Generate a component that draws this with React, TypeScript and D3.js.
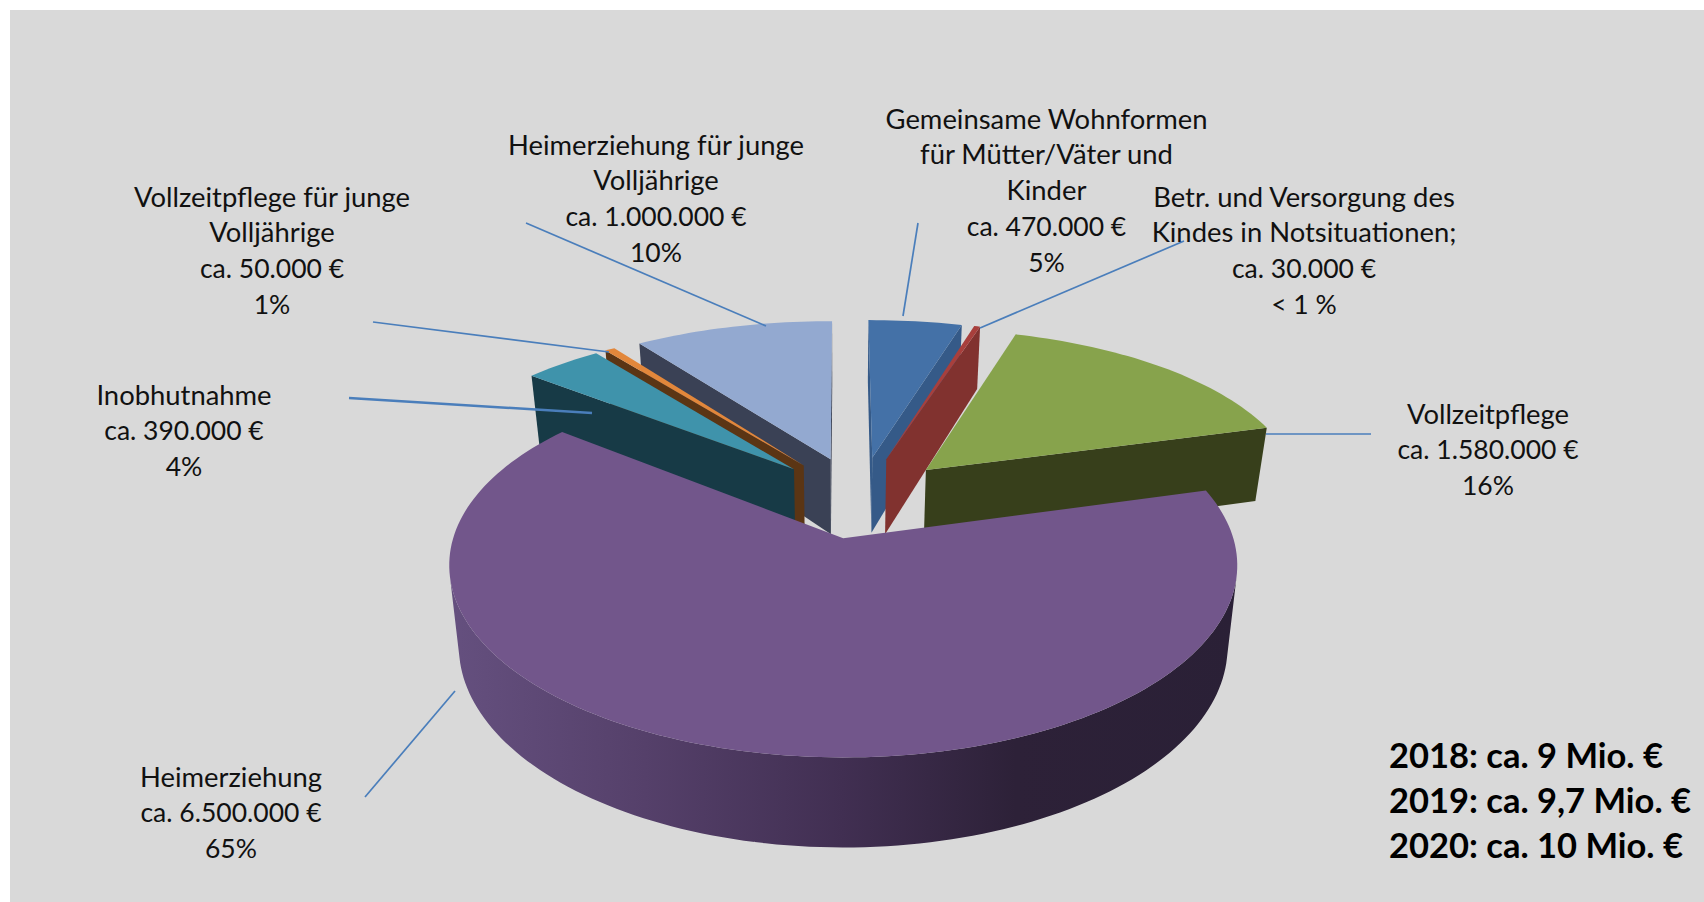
import React from "react";
import * as d3 from "d3";

// ---------- data ----------
const categories = [
  "Gemeinsame Wohnformen für Mütter/Väter und Kinder",
  "Betr. und Versorgung des Kindes in Notsituationen",
  "Vollzeitpflege",
  "Heimerziehung",
  "Inobhutnahme",
  "Vollzeitpflege für junge Volljährige",
  "Heimerziehung für junge Volljährige",
];
const amounts = [470000, 30000, 1580000, 6500000, 390000, 50000, 1000000];
const labelLines = [
  ["Gemeinsame Wohnformen", "für Mütter/Väter und", "Kinder", "ca. 470.000 €", "5%"],
  ["Betr. und Versorgung des", "Kindes in Notsituationen;", "ca. 30.000 €", "< 1 %"],
  ["Vollzeitpflege", "ca. 1.580.000 €", "16%"],
  ["Heimerziehung", "ca. 6.500.000 €", "65%"],
  ["Inobhutnahme", "ca. 390.000 €", "4%"],
  ["Vollzeitpflege für junge", "Volljährige", "ca. 50.000 €", "1%"],
  ["Heimerziehung für junge", "Volljährige", "ca. 1.000.000 €", "10%"],
];
const totals = ["2018: ca. 9 Mio. €", "2019: ca. 9,7 Mio. €", "2020: ca. 10 Mio. €"];

// ---------- styles and layout ----------
const topColors = ["#4471a7", "#a83f3c", "#87a34c", "#72568b", "#3f93ab", "#e2873b", "#93a9d0"];
const faceColors = ["#355a88", "#81322f", "#373f1b", "#3f2e50", "#173a46", "#5b3514", "#3a4155"];
const explosion = [0.25, 0.25, 0.25, 0.215, 0.25, 0.25, 0.25];
const labelPos: [number, number][] = [
  [1046.5, 118], [1304, 196], [1488, 413], [231, 776], [184, 394], [272, 196], [656, 144],
];
const leaders: [number, number, number, number, number][] = [
  [918, 223, 903, 316, 1.7],
  [1184, 241, 980, 328, 1.7],
  [1266, 434, 1371, 434, 1.7],
  [365, 797, 455, 691, 1.7],
  [349, 398, 592, 413, 2.4],
  [373, 322, 609, 352, 1.7],
  [526, 223, 766, 326, 1.7],
];
const lineStep = 35.9;

// Perspective projection of the pie disc: one plane for the top, one for the bottom.
const topPlane = { x0: 842, y0: 538, rx: 390, ry: 188.2, k: 0.1406, cx: 0.008, cy: 0.025 };
const botPlane = { x0: 842, y0: 616.6, rx: 380, ry: 196.3, k: 0.148, cx: 0, cy: 0 };
const centre = { u: 0.046, v: 0.209 };
type Plane = typeof topPlane;
type Pt = [number, number];
const project = (p: Plane, u: number, v: number): Pt => {
  const back = Math.max(v, 0);
  const sx = 1 / (1 + p.k * v + p.cx * back * back);
  const sy = 1 / (1 + p.k * v + p.cy * back * back);
  return [p.x0 + p.rx * u * sx, p.y0 - p.ry * v * sy];
};

const pieGen = d3.pie<number>().sort(null).startAngle(0).endAngle(2 * Math.PI);
const arcs = pieGen(amounts);
const pathOf = d3.line();

const slices = arcs.map((a, i) => {
  const mid = (a.startAngle + a.endAngle) / 2;
  const u0 = centre.u + explosion[i] * Math.sin(mid);
  const v0 = centre.v + explosion[i] * Math.cos(mid);
  const n = Math.max(2, Math.ceil((a.endAngle - a.startAngle) * 40));
  const angles = d3.range(n + 1).map((j) => a.startAngle + ((a.endAngle - a.startAngle) * j) / n);
  const rim = (p: Plane) => angles.map((t) => project(p, u0 + Math.sin(t), v0 + Math.cos(t)));
  const topRim = rim(topPlane);
  const botRim = rim(botPlane);
  const apexT = project(topPlane, u0, v0);
  const apexB = project(botPlane, u0, v0);
  const startFace: Pt[] = [apexT, topRim[0], botRim[0], apexB];
  const endFace: Pt[] = [apexT, topRim[n], botRim[n], apexB];
  // The outer wall is the union of thin quads; keeping only one winding hides the back of the rim.
  const wall = d3
    .range(n)
    .map((j): Pt[] => [topRim[j], topRim[j + 1], botRim[j + 1], botRim[j]])
    .filter((q) => d3.polygonArea(q) > 0)
    .map((q) => pathOf(q)! + "Z")
    .join("");
  return {
    i,
    apexY: apexT[1],
    top: pathOf([apexT, ...topRim])! + "Z",
    wall,
    faces: [
      d3.polygonArea(startFace) > 0 ? pathOf(startFace)! + "Z" : null,
      d3.polygonArea(endFace) < 0 ? pathOf(endFace)! + "Z" : null,
    ].filter(Boolean) as string[],
  };
});
const paintOrder = slices.slice().sort((a, b) => d3.ascending(a.apexY, b.apexY));
const bigIndex = d3.greatestIndex(amounts);
const isFigureLine = (t: string) => /^(ca\.|<|\d)/.test(t);

export default function App() {
  return (
    <svg
      width={1704}
      height={902}
      viewBox="0 0 1704 902"
      style={{ position: "absolute", left: 0, top: 0, display: "block", background: "#fff" }}
      fontFamily="Lato, 'Open Sans', sans-serif"
    >
      <title>{categories.join(", ")}</title>
      <defs>
        <linearGradient id="wallGrad" gradientUnits="userSpaceOnUse" x1="448" x2="1236" y1="0" y2="0">
          <stop offset="0" stopColor="#65507f" />
          <stop offset="0.25" stopColor="#55406a" />
          <stop offset="0.5" stopColor="#412f52" />
          <stop offset="0.72" stopColor="#2d2138" />
          <stop offset="1" stopColor="#2a2036" />
        </linearGradient>
      </defs>
      <rect x={10} y={10} width={1694} height={892} fill="#d9d9d9" />
      {paintOrder.map((s) => (
        <g key={s.i}>
          {s.wall && <path d={s.wall} fill={s.i === bigIndex ? "url(#wallGrad)" : faceColors[s.i]} />}
          {s.faces.map((d, j) => (
            <path key={j} d={d} fill={faceColors[s.i]} />
          ))}
          <path d={s.top} fill={topColors[s.i]} />
        </g>
      ))}
      {leaders.map(([x1, y1, x2, y2, w], i) => (
        <line key={i} x1={x1} y1={y1} x2={x2} y2={y2} stroke="#4a7ebb" strokeWidth={w} />
      ))}
      {labelLines.map((lines, i) => (
        <g key={i} fill="#111" textAnchor="middle">
          {lines.map((t, j) => (
            <text
              key={j}
              x={labelPos[i][0]}
              y={labelPos[i][1] + j * lineStep}
              fontSize={isFigureLine(t) ? 26.5 : 27.4}
              dominantBaseline="central"
            >
              {t}
            </text>
          ))}
        </g>
      ))}
      <g fontSize={34.5} fontWeight={700} fill="#000">
        {totals.map((t, j) => (
          <text key={j} x={1389} y={754 + j * 45} dominantBaseline="central">
            {t}
          </text>
        ))}
      </g>
    </svg>
  );
}
